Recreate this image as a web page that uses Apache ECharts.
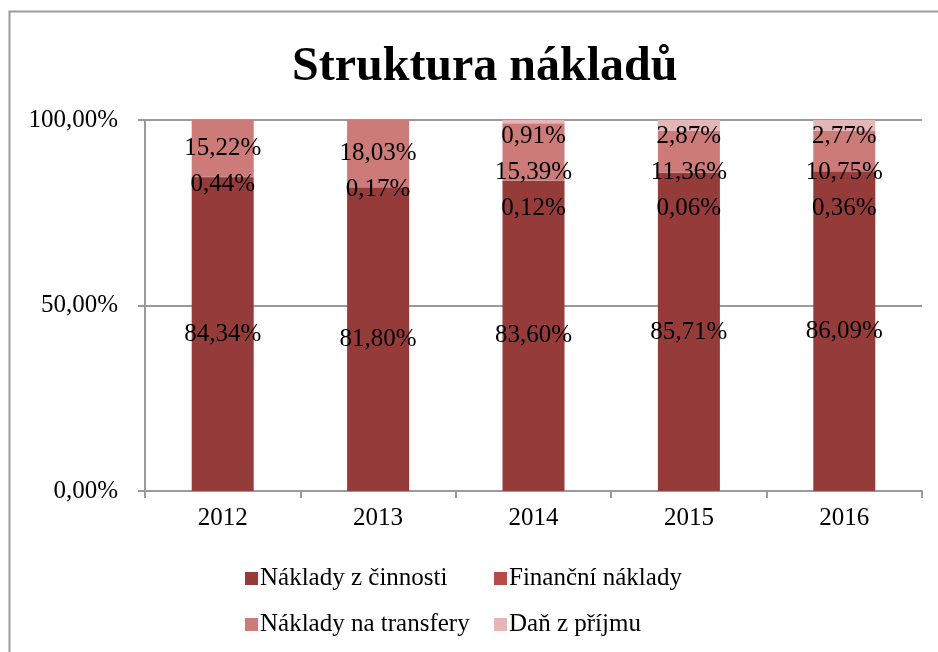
<!DOCTYPE html>
<html>
<head>
<meta charset="utf-8">
<script src="https://cdn.jsdelivr.net/npm/echarts@6/dist/echarts.min.js"></script>
<style>
  html, body { margin: 0; padding: 0; background: #fff; }
  #chart { width: 938px; height: 652px; }
</style>
</head>
<body>
<div id="chart"></div>
<script>
const years = ['2012', '2013', '2014', '2015', '2016']
const seriesNames = ['Náklady z činnosti', 'Finanční náklady', 'Náklady na transfery', 'Daň z příjmu']
const naklady = [84.34, 81.80, 83.60, 85.71, 86.09]
const financni = [0.44, 0.17, 0.12, 0.06, 0.36]
const transfery = [15.22, 18.03, 15.39, 11.36, 10.75]
const dan = [null, null, 0.91, 2.87, 2.77]
const yTicks = [0, 50, 100]

const allSeries = [naklady, financni, transfery, dan]
const colors = ['#953B3A', '#B84A48', '#CC7B79', '#E4B6B6']
const font = '"Liberation Serif", "Times New Roman", serif'
const labelGap = 36

const fmt = v => v.toFixed(2).replace('.', ',') + '%'

// spread the small stacked labels top-down so they don't overlap (like Excel does)
function spreadLabel(params) {
  const si = params.seriesIndex
  const di = params.dataIndex
  if (si === 0) return {}
  const value = allSeries[si][di]
  if (!value) return {}
  const rect = params.rect
  const scale = rect.height / value
  let below = 0
  for (let k = 0; k < si; k++) below += allSeries[k][di] || 0
  const zeroY = rect.y + rect.height + below * scale
  const topY = zeroY - yTicks[yTicks.length - 1] * scale
  // natural centres, from the top series down
  let cum = 0
  const centres = []
  allSeries.forEach((arr, k) => {
    const v = arr[di] || 0
    if (k > 0 && v) centres[k] = zeroY - (cum + v / 2) * scale
    cum += v
  })
  let prev = null
  let target = null
  for (let k = allSeries.length - 1; k >= 1; k--) {
    if (centres[k] == null) continue
    let y = centres[k]
    if (prev == null) y = Math.max(y, topY + 16)
    else y = Math.max(y, prev + labelGap)
    prev = y
    if (k === si) target = y
  }
  return { dy: target - (rect.y + rect.height / 2) }
}

const chart = echarts.init(document.getElementById('chart'))
const legendBase = {
  orient: 'vertical',
  top: 561,
  itemWidth: 13,
  itemHeight: 13,
  itemGap: 21,
  icon: 'rect',
  textStyle: { fontFamily: font, fontSize: 25, color: '#000', padding: [0, 0, 0, -3] }
}
const options = {
  animation: false,
  color: colors,
  textStyle: { fontFamily: font },
  graphic: [{
    type: 'rect',
    shape: { x: 9.5, y: 11.5, width: 1000, height: 800 },
    style: { fill: 'none', stroke: '#9a9a9a', lineWidth: 2 },
    silent: true
  }],
  title: {
    text: 'Struktura nákladů',
    left: 287,
    top: 39,
    textStyle: { fontFamily: font, fontSize: 48, fontWeight: 'bold', color: '#000' }
  },
  legend: [
    Object.assign({ data: [seriesNames[0], seriesNames[2]], left: 240 }, legendBase),
    Object.assign({ data: [seriesNames[1], seriesNames[3]], left: 489 }, legendBase)
  ],
  grid: { left: 145, right: 16, top: 120, bottom: 161 },
  xAxis: {
    type: 'category',
    data: years,
    axisLine: { lineStyle: { color: '#9a9a9a', width: 2 } },
    axisTick: { show: true, length: 7, lineStyle: { color: '#9a9a9a', width: 2 } },
    axisLabel: { fontFamily: font, fontSize: 25, color: '#000', margin: 15 }
  },
  yAxis: {
    type: 'value',
    min: yTicks[0],
    max: yTicks[yTicks.length - 1],
    interval: yTicks[1] - yTicks[0],
    axisLine: { show: true, lineStyle: { color: '#9a9a9a', width: 2 } },
    axisTick: { show: true, length: 7, lineStyle: { color: '#9a9a9a', width: 2 } },
    splitLine: { lineStyle: { color: '#9a9a9a', width: 2 } },
    axisLabel: { fontFamily: font, fontSize: 25, color: '#000', margin: 27, formatter: v => fmt(v) }
  },
  series: allSeries.map((vals, i) => ({
    name: seriesNames[i],
    type: 'bar',
    stack: 'total',
    barWidth: 62,
    data: vals,
    label: {
      show: true,
      position: 'inside',
      fontFamily: font,
      fontSize: 25,
      color: '#000',
      formatter: p => p.value == null ? '' : fmt(p.value)
    },
    labelLayout: spreadLabel
  }))
}
chart.setOption(options)
</script>
</body>
</html>
